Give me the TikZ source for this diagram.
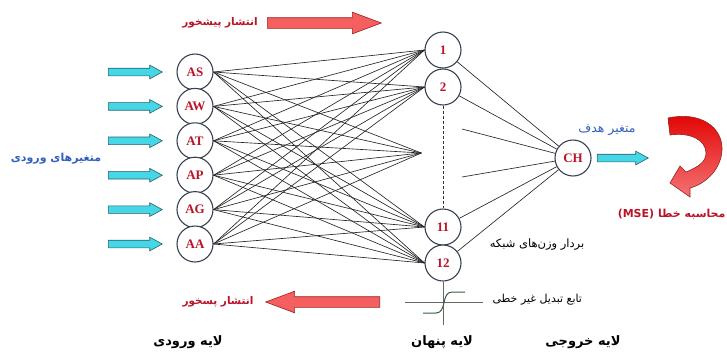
\documentclass[tikz,border=0pt]{standalone}
\usepackage{fontspec}
\setmainfont{Liberation Serif}
\newfontfamily\fa[Script=Arabic]{DejaVu Sans}
\TeXXeTstate=1
\usepackage{tikz}
\usetikzlibrary{shapes.arrows,calc}

\definecolor{lblred}{RGB}{185,20,40}
\definecolor{arrred}{RGB}{245,95,95}
\definecolor{arredge}{RGB}{150,35,35}
\definecolor{incyan}{RGB}{70,215,230}
\definecolor{cyedge}{RGB}{40,95,110}
\definecolor{txtblue}{RGB}{50,95,190}
\definecolor{ringc}{RGB}{55,65,80}
\definecolor{sigc}{RGB}{55,95,65}

\begin{document}
\begin{tikzpicture}[x=1pt,y=-1pt,
  neuron/.style={circle,draw=ringc,line width=1.1pt,fill=white,minimum size=36pt,inner sep=0pt,
    font=\fontsize{13}{14}\selectfont\bfseries,text=lblred},
  wire/.style={black!85,line width=0.65pt},
  inarrow/.style={single arrow,draw=cyedge,fill=incyan,line width=0.6pt,inner xsep=0pt,inner ysep=3.5pt,
    minimum height=54pt,minimum width=13pt,single arrow head extend=3pt,single arrow tip angle=57,anchor=tail},
  bigarrow/.style={single arrow,draw=arredge,fill=arrred,line width=0.6pt,inner xsep=0pt,inner ysep=5pt,
    minimum height=114pt,minimum width=21pt,single arrow head extend=5.5pt,single arrow tip angle=41,anchor=tail},
  axisline/.style={black!60,line width=0.7pt},
  fatxt/.style={font=\fa\fontsize{11.5}{13}\selectfont},
  fabold/.style={font=\fa\bfseries\fontsize{10.5}{12}\selectfont}]
\useasboundingbox (0,0) rectangle (727,354);

% input layer
\foreach \n/\y in {AS/72,AW/106.4,AT/140.8,AP/175.2,AG/209.6,AA/244}{
  \node[neuron] (\n) at (195,\y) {\n};
  \node[inarrow] (arr\n) at (108,\y) {};
}
% hidden layer
\foreach \n/\y in {1/50,2/87,11/227,12/263}
  \node[neuron] (h\n) at (443,\y) {\n};
\node[inner sep=0pt] (hmid) at (422,153) {};
% output layer
\node[neuron] (CH) at (573,158) {CH};
\node[inarrow,minimum height=51pt] (arrCH) at (597,158) {};

% weights
\foreach \i in {AS,AW,AT,AP,AG,AA}
  \foreach \j in {h1,h2,hmid,h11,h12}
    \draw[wire] (\i.east) -- (\j.west);
\foreach \j in {h1,h2,h11,h12}
  \draw[wire] (\j) -- (CH);
\coordinate (oa) at (462,129);
\coordinate (ob) at (462,177);
\draw[wire] (oa) -- (CH);
\draw[wire] (ob) -- (CH);
\draw[black!80,line width=0.6pt,dash pattern=on 3pt off 2pt] (h2.south) -- (h11.north);

% activation
\coordinate (sgb) at (443,325);
\coordinate (sgl) at (405,302);
\coordinate (sgr) at (483,302);
\draw[axisline] (h12.south) -- (sgb);
\draw[axisline] (sgl) -- (sgr);
\draw[sigc,line width=1pt] (423,313) -- (436,313) .. controls (447,313) and (441,292) .. (452,292) -- (465,292);

% propagation arrows
\node[bigarrow] (fwdarr) at (267,23) {};
\node[bigarrow,shape border rotate=180] (bckarr) at (380,302) {};
\node[fabold,text=lblred] (fwd) at (220,23) {\beginR انتشار پیشخور\endR};
\node[fabold,text=lblred] (bck) at (218,302) {\beginR انتشار پسخور\endR};

% error loop
\draw[draw=arredge,line width=0.6pt,top color={rgb,255:red,225;green,0;blue,0},bottom color={rgb,255:red,245;green,115;blue,115}]
  (668,118) .. controls (700,111) and (723,127) .. (722,150)
  .. controls (721,170) and (705,184) .. (690,188)
  -- (690,197) -- (670,183) -- (680,166) -- (686,172)
  .. controls (698,167) and (706,162) .. (706,153)
  .. controls (706,140) and (690,132) .. (670,135) -- cycle;

% labels
\node[fabold,font=\fa\bfseries\fontsize{11}{13}\selectfont,text=txtblue] (invar) at (56,159) {\beginR متغیرهای ورودی\endR};
\node[fatxt,font=\fa\fontsize{12.5}{14}\selectfont,text=txtblue] (tgt) at (607,130) {\beginR متغیر هدف\endR};
\node[fabold,font=\fa\bfseries\fontsize{11}{13}\selectfont,text=lblred,anchor=east] (mse) at (729,214) {\beginR محاسبه خطا \beginL(MSE)\endL\endR};
\node[fatxt] (wvec) at (537,245) {\beginR بردار وزن‌های شبکه\endR};
\node[fatxt,font=\fa\fontsize{11}{13}\selectfont,anchor=west] (act) at (489,300) {\beginR تابع تبدیل غیر خطی\endR};
\node[fabold,font=\fa\bfseries\fontsize{13}{15}\selectfont] (lin) at (188,342) {\beginR لایه ورودی\endR};
\node[fabold,font=\fa\bfseries\fontsize{13}{15}\selectfont] (lhid) at (442,342) {\beginR لایه پنهان\endR};
\node[fabold,font=\fa\bfseries\fontsize{13}{15}\selectfont] (lout) at (583,342) {\beginR لایه خروجی\endR};
\end{tikzpicture}
\end{document}
